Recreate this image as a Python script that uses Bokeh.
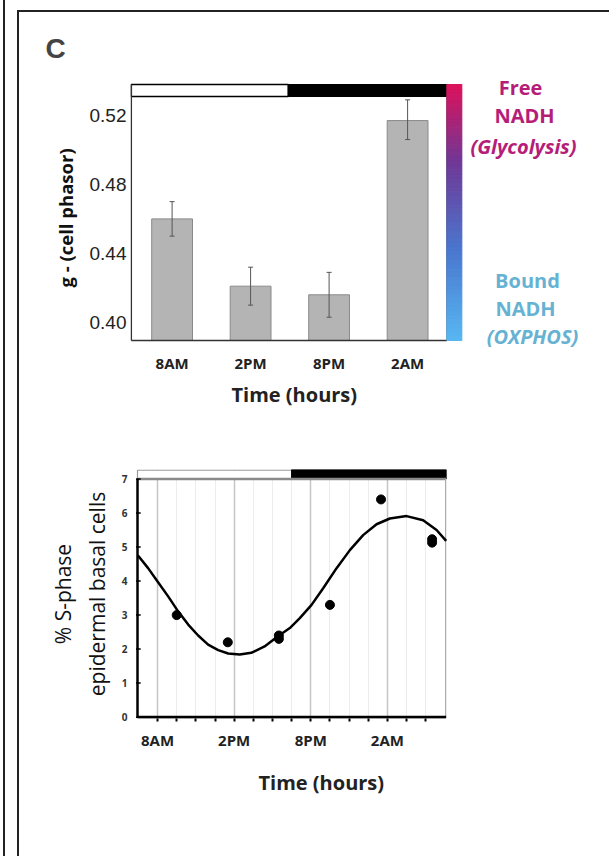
import numpy as np
from bokeh.plotting import figure
from bokeh.models import (FixedTicker, Label, Title, Whisker, ColumnDataSource,
                          Range1d, PrintfTickFormatter, Div)
from bokeh.layouts import column, row
from bokeh.embed import file_html
from bokeh.resources import INLINE

# ---------------- data ----------------
bar_labels = ["8AM", "2PM", "8PM", "2AM"]
bar_values = [0.460, 0.421, 0.416, 0.517]
bar_err_low = [0.450, 0.410, 0.403, 0.506]
bar_err_high = [0.470, 0.432, 0.429, 0.529]
g_ticks = [0.40, 0.44, 0.48, 0.52]

sphase_hours = [9.5, 13.5, 17.5, 17.5, 21.5, 25.5, 29.5, 29.5]
sphase_values = [3.0, 2.2, 2.3, 2.4, 3.3, 6.4, 5.13, 5.23]

fit_hours = [6.45, 7.26, 8.0, 8.83, 9.61, 10.4, 11.18, 11.96, 12.75, 13.53,
             14.44, 15.34, 16.38, 17.43, 18.36, 19.14, 20.06, 20.97, 22.02,
             23.06, 24.1, 25.15, 26.19, 27.5, 28.8, 29.85, 30.6]
fit_values = [4.76, 4.38, 3.99, 3.55, 3.11, 2.72, 2.40, 2.13, 1.97, 1.87,
              1.84, 1.89, 2.08, 2.38, 2.62, 2.91, 3.30, 3.79, 4.38,
              4.91, 5.35, 5.67, 5.84, 5.91, 5.79, 5.50, 5.18]

time_ticks = [8, 14, 20, 26]
time_labels = ["8AM", "2PM", "8PM", "2AM"]
pct_ticks = [0, 1, 2, 3, 4, 5, 6, 7]

# ---------------- figure 1: bar chart ----------------
PXU = 78.5      # px per category unit
PYU = 1725.0    # px per g unit
G_BASE = 0.3895  # value at the bar baseline (axis line)
X0 = -0.53
X1 = X0 + 470 / PXU

def fx(px):
    return X0 + (px - 130) / PXU

def fy(py):
    return G_BASE + (340 - py) / PYU

Y0 = fy(350)
Y1 = fy(70)

p1 = figure(width=590, height=400, x_range=Range1d(X0, X1), y_range=Range1d(Y0, Y1),
            output_backend="svg", toolbar_location=None,
            min_border_left=111, min_border_right=9, min_border_top=58, min_border_bottom=62)
p1.outline_line_color = None
p1.grid.grid_line_color = None

xs = list(range(len(bar_labels)))
p1.vbar(x=xs, top=bar_values, bottom=G_BASE, width=0.52, fill_color="#b4b4b4",
        line_color="#8a8a8a", line_width=1)
src = ColumnDataSource(dict(x=xs, lo=bar_err_low, hi=bar_err_high))
w = Whisker(source=src, base="x", lower="lo", upper="hi", line_color="#555555", line_width=1,
            level="overlay")
w.upper_head.size = 5
w.lower_head.size = 5
w.upper_head.line_color = "#555555"
w.lower_head.line_color = "#555555"
p1.add_layout(w)

# light/dark strip
strip_lo, strip_hi = fy(96), fy(84)
xl = fx(130.8)
p1.quad(left=xl, right=1.48, bottom=strip_lo, top=strip_hi, fill_color="white",
        line_color="black", line_width=1.5)
p1.quad(left=1.48, right=3.5, bottom=strip_lo, top=strip_hi, fill_color="black", line_color="black")
# frame lines
p1.segment(x0=xl, y0=G_BASE, x1=3.5, y1=G_BASE, line_color="#333333", line_width=1.5)
p1.segment(x0=xl, y0=G_BASE, x1=xl, y1=strip_hi, line_color="#333333", line_width=1.5)
p1.segment(x0=3.5, y0=G_BASE, x1=3.5, y1=strip_lo, line_color="#444444", line_width=1)

# gradient color bar
stops = [(0.0, (88, 184, 242)), (0.35, (74, 120, 208)), (0.7, (112, 56, 150)), (1.0, (220, 18, 92))]
n = 60
edges = np.linspace(G_BASE, strip_hi, n + 1)
cols = []
for i in range(n):
    t = (i + 0.5) / n
    for j in range(len(stops) - 1):
        if stops[j][0] <= t <= stops[j + 1][0]:
            f = (t - stops[j][0]) / (stops[j + 1][0] - stops[j][0])
            c = [int(stops[j][1][k] + f * (stops[j + 1][1][k] - stops[j][1][k])) for k in range(3)]
            cols.append("#%02x%02x%02x" % tuple(c))
            break
p1.quad(left=3.5, right=3.5 + 15 / PXU, bottom=edges[:-1], top=edges[1:],
        fill_color=cols, line_color=cols, line_width=1)

p1.xaxis.ticker = FixedTicker(ticks=xs)
p1.xaxis.major_label_overrides = {i: l for i, l in zip(xs, bar_labels)}
p1.xaxis.axis_line_color = None
p1.xaxis.major_tick_line_color = None
p1.xaxis.minor_tick_line_color = None
p1.xaxis.major_tick_out = 0
p1.xaxis.major_tick_in = 0
p1.xaxis.major_label_standoff = 2
p1.xaxis.major_label_text_font = "Open Sans"
p1.xaxis.major_label_text_font_style = "bold"
p1.xaxis.major_label_text_font_size = "15px"
p1.xaxis.major_label_text_color = "#222222"

p1.yaxis.ticker = FixedTicker(ticks=g_ticks)
p1.yaxis.formatter = PrintfTickFormatter(format="%.2f")
p1.yaxis.axis_line_color = None
p1.yaxis.major_tick_line_color = None
p1.yaxis.minor_tick_line_color = None
p1.yaxis.major_tick_out = 0
p1.yaxis.major_tick_in = 0
p1.yaxis.major_label_standoff = 4
p1.yaxis.major_label_text_font = "Liberation Sans"
p1.yaxis.major_label_text_font_size = "19px"
p1.yaxis.major_label_text_color = "#222222"

p1.add_layout(Title(text="g - (cell phasor)", align="left", offset=63, text_font="Open Sans",
                    text_font_style="bold", text_font_size="18.5px", text_color="#111111",
                    standoff=17), "left")

p1.title.text = "C"
p1.title.text_font = "Liberation Sans"
p1.title.text_font_size = "28px"
p1.title.text_font_style = "bold"
p1.title.align = "left"
p1.title.offset = -85
p1.title.standoff = 13

p1.add_layout(Title(text="Time (hours)", align="left", offset=101, text_font="Open Sans",
                    text_font_style="bold", text_font_size="20px", text_color="#222222",
                    standoff=7), "below")

mag = "#b51d78"
blu = "#66b2d2"
for txt, px, py, col, style in [("Free", 520, 87, mag, "bold"),
                                ("NADH", 524, 115, mag, "bold"),
                                ("(Glycolysis)", 523, 146, mag, "bold italic"),
                                ("Bound", 527, 280, blu, "bold"),
                                ("NADH", 525, 308, blu, "bold"),
                                ("(OXPHOS)", 532, 336, blu, "bold italic")]:
    p1.add_layout(Label(x=fx(px), y=fy(py), text=txt, text_align="center",
                        text_baseline="middle", text_color=col, text_font="Open Sans",
                        text_font_style=style, text_font_size="20px"))

# ---------------- figure 2: S-phase ----------------
PXH = 12.77     # px per hour
HA, HB = 6.43, 30.6          # visible chart span (axis to right edge)
H0 = HA - 7 / PXH            # frame starts 7px left of the axis
H1 = H0 + 470 / PXH
V0, V1 = -0.04, 7.28
p2 = figure(width=590, height=444, x_range=Range1d(H0, H1), y_range=Range1d(V0, V1),
            output_backend="svg", toolbar_location=None,
            min_border_left=111, min_border_right=9, min_border_top=57, min_border_bottom=138)
p2.outline_line_color = None
p2.ygrid.grid_line_color = None
minor = [t for t in np.arange(9.5, 30.0, 1.5) if all(abs(t - m) > 0.01 for m in time_ticks)]
xt = FixedTicker(ticks=time_ticks, minor_ticks=minor)
p2.xaxis.ticker = xt
p2.xgrid.ticker = xt
p2.xgrid.grid_line_color = "#c4c4c4"
p2.xgrid.grid_line_width = 1.5
p2.xgrid.minor_grid_line_color = "#ececec"
p2.xgrid.minor_grid_line_width = 1

# strip and frame lines
p2.quad(left=HA, right=18.5, bottom=7.0, top=V1 - 0.02, fill_color="white",
        line_color="#9a9a9a", line_width=1.2)
p2.quad(left=18.5, right=HB, bottom=7.0, top=V1, fill_color="black", line_color="black")
p2.segment(x0=HA, y0=7.0, x1=HB, y1=7.0, line_color="#8a8a8a", line_width=2.5)
p2.segment(x0=HB - 0.04, y0=0, x1=HB - 0.04, y1=7.0, line_color="#aaaaaa", line_width=1.2)

p2.line(fit_hours, fit_values, line_color="black", line_width=2.5)
p2.scatter(sphase_hours, sphase_values, size=9, color="black")

# axes lines and y tick marks
p2.segment(x0=HA, y0=0, x1=HB, y1=0, line_color="black", line_width=3)
p2.segment(x0=HA, y0=0, x1=HA, y1=7.0, line_color="black", line_width=2.5)
p2.segment(x0=[HA - 0.12] * len(pct_ticks), y0=pct_ticks, x1=[HA + 0.25] * len(pct_ticks),
           y1=pct_ticks, line_color="black", line_width=1.5)

p2.xaxis.major_label_overrides = {t: l for t, l in zip(time_ticks, time_labels)}
p2.xaxis.axis_line_color = None
p2.xaxis.major_tick_out = 3
p2.xaxis.major_tick_in = 0
p2.xaxis.minor_tick_out = 3
p2.xaxis.minor_tick_in = 0
p2.xaxis.major_tick_line_width = 2
p2.xaxis.minor_tick_line_width = 2
p2.xaxis.major_label_standoff = 8
p2.xaxis.major_label_text_font = "Open Sans"
p2.xaxis.major_label_text_font_style = "bold"
p2.xaxis.major_label_text_font_size = "15px"
p2.xaxis.major_label_text_color = "#222222"

p2.yaxis.ticker = FixedTicker(ticks=pct_ticks)
p2.yaxis.axis_line_color = None
p2.yaxis.major_tick_line_color = None
p2.yaxis.minor_tick_line_color = None
p2.yaxis.major_tick_out = 0
p2.yaxis.major_tick_in = 0
p2.yaxis.major_label_standoff = 3
p2.yaxis.major_label_text_font = "Open Sans"
p2.yaxis.major_label_text_font_style = "bold"
p2.yaxis.major_label_text_font_size = "10px"
p2.yaxis.major_label_text_color = "#333333"
p2.yaxis.axis_label = "% S-phase\nepidermal basal cells"
p2.yaxis.axis_label_text_font = "Open Sans"
p2.yaxis.axis_label_text_font_style = "normal"
p2.yaxis.axis_label_text_font_size = "21px"
p2.yaxis.axis_label_text_color = "#111111"
p2.yaxis.axis_label_standoff = 8

p2.add_layout(Title(text="Time (hours)", align="left", offset=128, text_font="Open Sans",
                    text_font_style="bold", text_font_size="20px", text_color="#222222",
                    standoff=28), "below")

# ---------------- panel borders ----------------
top_html = ('<div style="position:relative;width:609px;height:12px;">'
            '<div style="position:absolute;left:3px;top:0px;width:2px;height:12px;background:#222;"></div>'
            '<div style="position:absolute;left:17px;top:10px;width:592px;height:2px;background:#222;"></div>'
            '</div>')
left_html = ('<div style="position:relative;width:19px;height:844px;">'
             '<div style="position:absolute;left:3px;top:0px;width:2px;height:844px;background:#222;"></div>'
             '<div style="position:absolute;left:17px;top:0px;width:2px;height:844px;background:#222;"></div>'
             '</div>')
top_div = Div(text=top_html, width=609, height=12, margin=0)
left_div = Div(text=left_html, width=19, height=844, margin=0)

layout = column(top_div, row(left_div, column(p1, p2, spacing=0), spacing=0), spacing=0)

open("out.html", "w").write(file_html(layout, INLINE))
